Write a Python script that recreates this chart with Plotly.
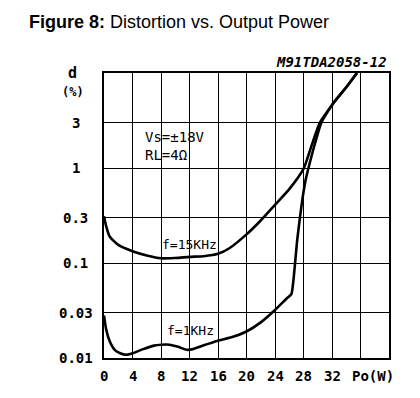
import math
import plotly.graph_objects as go

# Data
p_15k = [0, 0.3, 0.8, 2, 4, 6, 8, 10, 12, 14, 16, 17.6, 20, 22, 24, 26, 28, 29.1, 30.3, 32.2, 34.1, 35.5]
d_15k = [0.31, 0.245, 0.19, 0.155, 0.133, 0.12, 0.112, 0.113, 0.116, 0.118, 0.125, 0.143, 0.2, 0.28, 0.41,
         0.6, 0.98, 1.69, 3.0, 4.8, 7.2, 10]

p_1k = [0, 0.3, 0.8, 1.5, 2.2, 3.1, 4, 5.5, 7, 8, 9.2, 10.4, 11.6, 12.5, 14, 16, 18, 20, 22, 24, 25.6,
        26.3, 26.7, 27.1, 27.5, 27.9, 28.3, 28.7, 29.6, 30.5, 32.2, 34.1, 35.5]
d_1k = [0.028, 0.02, 0.015, 0.0122, 0.0113, 0.0108, 0.0112, 0.0124, 0.0135, 0.0138, 0.0138, 0.0131,
        0.0122, 0.0124, 0.0136, 0.0152, 0.0166, 0.019, 0.0237, 0.032, 0.042,
        0.047, 0.08, 0.17, 0.3, 0.5, 0.75, 1.0, 1.8, 3.0, 4.85, 7.25, 10]

x_ticks = [0, 4, 8, 12, 16, 20, 24, 28, 32]
x_grid = [0, 4, 8, 12, 16, 20, 24, 28, 32, 36, 40]
y_ticks = [0.01, 0.03, 0.1, 0.3, 1, 3]
y_tick_text = ["0.01", "0.03", "0.1", "0.3", "1", "3"]
y_grid = [0.01, 0.03, 0.1, 0.3, 1, 3, 10]

title_html = "<b>Figure 8:</b> Distortion vs. Output Power"
code_text = "M91TDA2058-12"
cond_lines = ["Vs=±18V", "RL=4Ω"]
label_15k = "f=15KHz"
label_1k = "f=1KHz"

MONO = "DejaVu Sans Mono"

fig = go.Figure()
fig.add_trace(go.Scatter(x=p_15k, y=d_15k, mode="lines",
                         line=dict(color="black", width=2.6, shape="spline", smoothing=0.6),
                         showlegend=False, hoverinfo="skip"))
fig.add_trace(go.Scatter(x=p_1k, y=d_1k, mode="lines",
                         line=dict(color="black", width=2.6, shape="spline", smoothing=0.5),
                         showlegend=False, hoverinfo="skip"))

annotations = []
# title
annotations.append(dict(xref="paper", yref="paper", x=-0.27, y=1.18, xanchor="left", yanchor="middle",
                        text=title_html, showarrow=False,
                        font=dict(family="Liberation Sans", size=18, color="black")))
# code
annotations.append(dict(xref="paper", yref="paper", x=1.0, y=1.0, xanchor="right", yanchor="bottom",
                        yshift=1, text=code_text, showarrow=False,
                        font=dict(family=MONO, size=14, color="black", style="italic", weight="bold")))
# y tick labels
for v, t in zip(y_ticks, y_tick_text):
    annotations.append(dict(xref="paper", yref="y", x=-0.1, y=math.log10(v),
                            xanchor="center", yanchor="middle", text=t, showarrow=False,
                            font=dict(family=MONO, size=14, color="black", weight="bold")))
# axis title labels
annotations.append(dict(xref="paper", yref="paper", x=-0.11, y=1.0, xanchor="center", yanchor="middle",
                        text="d", showarrow=False, font=dict(family=MONO, size=15, color="black", weight="bold")))
annotations.append(dict(xref="paper", yref="paper", x=-0.11, y=0.932, xanchor="center", yanchor="middle",
                        text="(%)", showarrow=False, font=dict(family=MONO, size=12, color="black", weight="bold")))
# x tick labels
for v in x_ticks:
    annotations.append(dict(xref="x", yref="paper", x=v, y=-0.063, xanchor="center", yanchor="middle",
                            text=str(v), showarrow=False,
                            font=dict(family=MONO, size=14, color="black", weight="bold")))
annotations.append(dict(xref="x", yref="paper", x=34.5, y=-0.063, xanchor="left", yanchor="middle",
                        text="Po(W)", showarrow=False,
                        font=dict(family=MONO, size=14, color="black", weight="bold")))
# conditions
for txt, yy in zip(cond_lines, [0.774, 0.712]):
    annotations.append(dict(xref="paper", yref="paper", x=0.136, y=yy, xanchor="left", yanchor="middle",
                            text=txt, showarrow=False, align="left",
                            font=dict(family=MONO, size=14, color="black")))
# curve labels
annotations.append(dict(xref="paper", yref="paper", x=0.299, y=0.4, xanchor="center", yanchor="middle",
                        text=label_15k, showarrow=False, font=dict(family=MONO, size=13, color="black")))
annotations.append(dict(xref="paper", yref="paper", x=0.302, y=0.095, xanchor="center", yanchor="middle",
                        text=label_1k, showarrow=False, font=dict(family=MONO, size=13, color="black")))

fig.update_layout(
    width=420, height=398,
    margin=dict(l=104, r=31, t=73, b=40, pad=0),
    paper_bgcolor="white", plot_bgcolor="white",
    annotations=annotations,
    xaxis=dict(range=[0, 40], tickvals=x_grid, showticklabels=False, ticks="",
               showgrid=True, gridcolor="black", gridwidth=1, zeroline=False,
               showline=True, linecolor="black", linewidth=1.5, mirror=True, fixedrange=True),
    yaxis=dict(type="log", range=[-2, 1], tickvals=y_grid, showticklabels=False, ticks="",
               showgrid=True, gridcolor="black", gridwidth=1, zeroline=False,
               showline=True, linecolor="black", linewidth=1.5, mirror=True, fixedrange=True),
)

fig.write_html("out.html", config={"displayModeBar": False},
               post_script="document.body.style.margin='0';document.body.style.padding='0';")
